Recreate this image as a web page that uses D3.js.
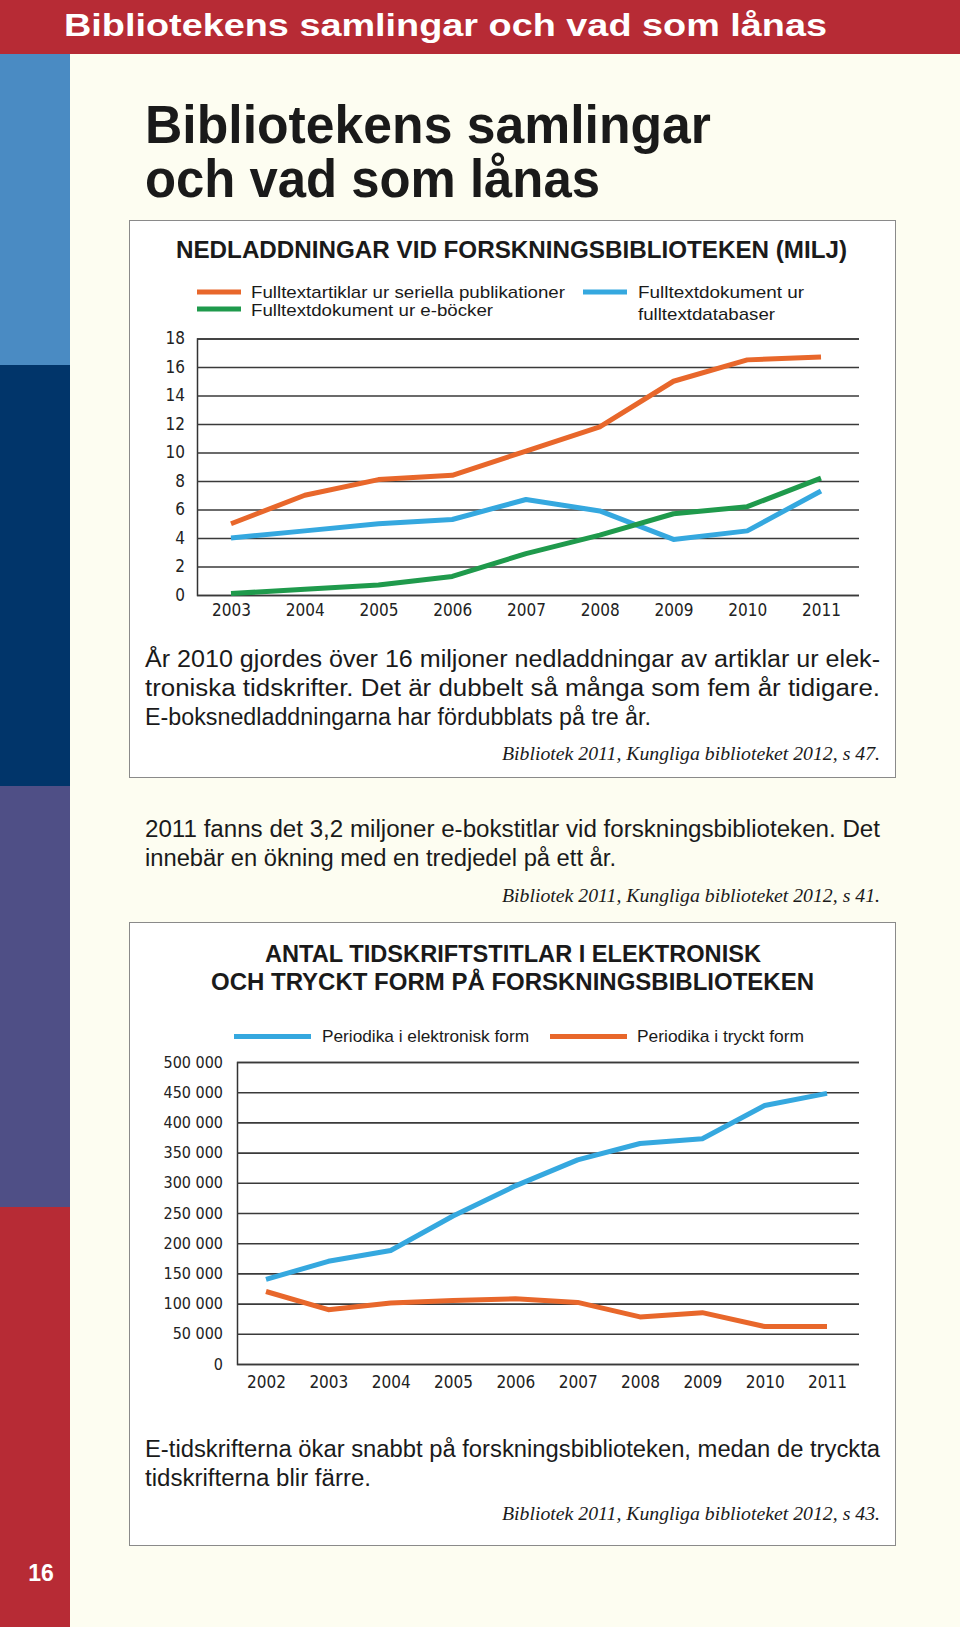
<!DOCTYPE html>
<html><head><meta charset="utf-8">
<script src="https://cdn.jsdelivr.net/npm/d3@7"></script>
<style>
html,body{margin:0;padding:0;background:#fdfdf1;}
svg{display:block;}
.cond{font-family:"Liberation Sans Narrow","DejaVu Sans Condensed","Liberation Sans",Arial,sans-serif;}
.sans{font-family:"Liberation Sans",Arial,sans-serif;}
.serif{font-family:"Liberation Serif","DejaVu Serif",serif;font-style:italic;}
</style></head>
<body>
<script>
// ---------- data ----------
const years1 = [2003, 2004, 2005, 2006, 2007, 2008, 2009, 2010, 2011];
const seriellaPublikationer = [5.0, 7.0, 8.1, 8.4, 10.1, 11.8, 15.0, 16.5, 16.7];
const fulltextdatabaser = [4.0, 4.5, 5.0, 5.3, 6.7, 5.9, 3.9, 4.5, 7.3];
const eBoecker = [0.1, 0.4, 0.7, 1.3, 2.9, 4.2, 5.7, 6.2, 8.2];
const yTicks1 = [0, 2, 4, 6, 8, 10, 12, 14, 16, 18];

const years2 = [2002, 2003, 2004, 2005, 2006, 2007, 2008, 2009, 2010, 2011];
const elektroniskForm = [140000, 170000, 188000, 245000, 295000, 338000, 365000, 373000, 428000, 448000];
const trycktForm = [120000, 90000, 101000, 105000, 108000, 102000, 78000, 85000, 62000, 62000];
const yTicks2 = [0, 50000, 100000, 150000, 200000, 250000, 300000, 350000, 400000, 450000, 500000];

const legend1 = ["Fulltextartiklar ur seriella publikationer", "Fulltextdokument ur e-böcker", "Fulltextdokument ur", "fulltextdatabaser"];
const legend2 = ["Periodika i elektronisk form", "Periodika i tryckt form"];

// ---------- page ----------
const W = 960, H = 1627;
const ORANGE = "#e8672b", BLUE = "#35a8df", GREEN = "#1f9a4c";
const svg = d3.select("body").append("svg").attr("width", W).attr("height", H);

svg.append("rect").attr("width", W).attr("height", H).attr("fill", "#fdfdf1");
// side bands
const bands = [[54, 365, "#4a8bc3"], [365, 786, "#01356a"], [786, 1207, "#4f4f86"], [1207, 1627, "#b72b35"]];
bands.forEach(b => svg.append("rect").attr("x", 0).attr("y", b[0]).attr("width", 70).attr("height", b[1] - b[0]).attr("fill", b[2]));
// header
svg.append("rect").attr("x", 0).attr("y", 0).attr("width", W).attr("height", 54).attr("fill", "#b72b35");
svg.append("text").attr("class", "sans").attr("x", 64).attr("y", 36).attr("font-size", 32).attr("font-weight", 700)
  .attr("fill", "#fff").attr("textLength", 763).attr("lengthAdjust", "spacingAndGlyphs")
  .text("Bibliotekens samlingar och vad som lånas");
svg.append("text").attr("class", "sans").attr("x", 41).attr("y", 1581).attr("font-size", 23).attr("font-weight", 700)
  .attr("fill", "#fff").attr("text-anchor", "middle").text("16");

// main title
[["Bibliotekens samlingar", 143, 566], ["och vad som lånas", 197, 455]].forEach(t =>
  svg.append("text").attr("class", "sans").attr("x", 145).attr("y", t[1]).attr("font-size", 54).attr("font-weight", 700)
    .attr("fill", "#1a1a1a").attr("textLength", t[2]).attr("lengthAdjust", "spacingAndGlyphs").text(t[0]));

// boxes
svg.append("rect").attr("x", 129.5).attr("y", 220.5).attr("width", 766).attr("height", 557).attr("fill", "#fff").attr("stroke", "#8a8a8a");
svg.append("rect").attr("x", 129.5).attr("y", 922.5).attr("width", 766).attr("height", 623).attr("fill", "#fff").attr("stroke", "#8a8a8a");

function txt(s, x, y, size, len, cls, opts = {}) {
  const t = svg.append("text").attr("class", cls).attr("x", x).attr("y", y).attr("font-size", size)
    .attr("fill", opts.fill || "#1a1a1a").text(s);
  if (opts.weight) t.attr("font-weight", opts.weight);
  if (opts.anchor) t.attr("text-anchor", opts.anchor);
  if (len) t.attr("textLength", len).attr("lengthAdjust", "spacingAndGlyphs");
  return t;
}

// ---------- chart 1 ----------
txt("NEDLADDNINGAR VID FORSKNINGSBIBLIOTEKEN (MILJ)", 176, 258, 23, 671, "sans", {weight: 700});
// legend 1
[[197, 292, ORANGE], [197, 309, GREEN], [583, 292, BLUE]].forEach(l =>
  svg.append("line").attr("x1", l[0]).attr("x2", l[0] + 44).attr("y1", l[1]).attr("y2", l[1]).attr("stroke", l[2]).attr("stroke-width", 5));
txt(legend1[0], 251, 298, 17, 314, "sans");
txt(legend1[1], 251, 316, 17, 242, "sans");
txt(legend1[2], 638, 298, 17, 166, "sans");
txt(legend1[3], 638, 320, 17, 137, "sans");

const x1 = d3.scaleLinear().domain([2003, 2011]).range([231, 821]);
const y1 = d3.scaleLinear().domain([0, 18]).range([595, 338.5]);
const gL = 197, gR = 859;

const ax1 = svg.append("g").attr("transform", `translate(${gL},0)`)
  .call(d3.axisLeft(y1).tickValues(yTicks1).tickSize(-(gR - gL)).tickPadding(12).tickFormat(d3.format("d")));
ax1.select(".domain").attr("stroke", "#333").attr("stroke-width", 1.5);
ax1.selectAll(".tick line").attr("stroke", "#3a3a3a").attr("stroke-width", 1.6);
ax1.selectAll(".tick text").attr("class", "cond").attr("font-size", 17).attr("fill", "#222");
ax1.attr("font-family", null);

const xa1 = svg.append("g").attr("transform", `translate(0,595)`)
  .call(d3.axisBottom(x1).tickValues(years1).tickSize(0).tickPadding(9).tickFormat(d3.format("d")));
xa1.select(".domain").remove();
xa1.selectAll(".tick text").attr("class", "cond").attr("font-size", 17).attr("fill", "#222");
xa1.attr("font-family", null);

const line1 = vals => d3.line().x((d, i) => x1(years1[i])).y(d => y1(d))(vals);
[[fulltextdatabaser, BLUE], [eBoecker, GREEN], [seriellaPublikationer, ORANGE]].forEach(s =>
  svg.append("path").attr("d", line1(s[0])).attr("fill", "none").attr("stroke", s[1]).attr("stroke-width", 5)
    .attr("stroke-linejoin", "round").attr("stroke-linecap", "butt"));

// text 1
txt("År 2010 gjordes över 16 miljoner nedladdningar av artiklar ur elek-", 145, 667, 23, 735, "sans");
txt("troniska tidskrifter. Det är dubbelt så många som fem år tidigare.", 145, 696, 23, 735, "sans");
txt("E-boksnedladdningarna har fördubblats på tre år.", 145, 725, 23, 506, "sans");
txt("Bibliotek 2011, Kungliga biblioteket 2012, s 47.", 880, 760, 19, 378, "serif", {anchor: "end"});

// text 2
txt("2011 fanns det 3,2 miljoner e-bokstitlar vid forskningsbiblioteken. Det", 145, 837, 23, 735, "sans");
txt("innebär en ökning med en tredjedel på ett år.", 145, 866, 23, 471, "sans");
txt("Bibliotek 2011, Kungliga biblioteket 2012, s 41.", 880, 902, 19, 378, "serif", {anchor: "end"});

// ---------- chart 2 ----------
txt("ANTAL TIDSKRIFTSTITLAR I ELEKTRONISK", 265, 962, 24, 496, "sans", {weight: 700});
txt("OCH TRYCKT FORM PÅ FORSKNINGSBIBLIOTEKEN", 211, 990, 24, 603, "sans", {weight: 700});
[[234, BLUE], [550, ORANGE]].forEach(l =>
  svg.append("line").attr("x1", l[0]).attr("x2", l[0] + 77).attr("y1", 1036.5).attr("y2", 1036.5).attr("stroke", l[1]).attr("stroke-width", 5));
txt(legend2[0], 322, 1042, 17, 207, "sans");
txt(legend2[1], 637, 1042, 17, 167, "sans");

const x2 = d3.scaleLinear().domain([2002, 2011]).range([266, 827]);
const y2 = d3.scaleLinear().domain([0, 500000]).range([1364, 1062]);
const g2L = 237;
const sv = d3.formatLocale({decimal: ",", thousands: " ", grouping: [3], currency: ["", ""]});

const ax2 = svg.append("g").attr("transform", `translate(${g2L},0)`)
  .call(d3.axisLeft(y2).tickValues(yTicks2).tickSize(-(gR - g2L)).tickPadding(14).tickFormat(sv.format(",d")));
ax2.select(".domain").attr("stroke", "#333").attr("stroke-width", 1.5);
ax2.selectAll(".tick line").attr("stroke", "#3a3a3a").attr("stroke-width", 1.6);
ax2.selectAll(".tick text").attr("class", "cond").attr("font-size", 16).attr("fill", "#222");
ax2.attr("font-family", null);

const xa2 = svg.append("g").attr("transform", `translate(0,1364)`)
  .call(d3.axisBottom(x2).tickValues(years2).tickSize(0).tickPadding(12).tickFormat(d3.format("d")));
xa2.select(".domain").remove();
xa2.selectAll(".tick text").attr("class", "cond").attr("font-size", 17).attr("fill", "#222");
xa2.attr("font-family", null);

const line2 = vals => d3.line().x((d, i) => x2(years2[i])).y(d => y2(d))(vals);
[[trycktForm, ORANGE], [elektroniskForm, BLUE]].forEach(s =>
  svg.append("path").attr("d", line2(s[0])).attr("fill", "none").attr("stroke", s[1]).attr("stroke-width", 5)
    .attr("stroke-linejoin", "round").attr("stroke-linecap", "butt"));

// text 3
txt("E-tidskrifterna ökar snabbt på forskningsbiblioteken, medan de tryckta", 145, 1457, 23, 735, "sans");
txt("tidskrifterna blir färre.", 145, 1486, 23, 226, "sans");
txt("Bibliotek 2011, Kungliga biblioteket 2012, s 43.", 880, 1520, 19, 378, "serif", {anchor: "end"});
</script>
</body></html>
